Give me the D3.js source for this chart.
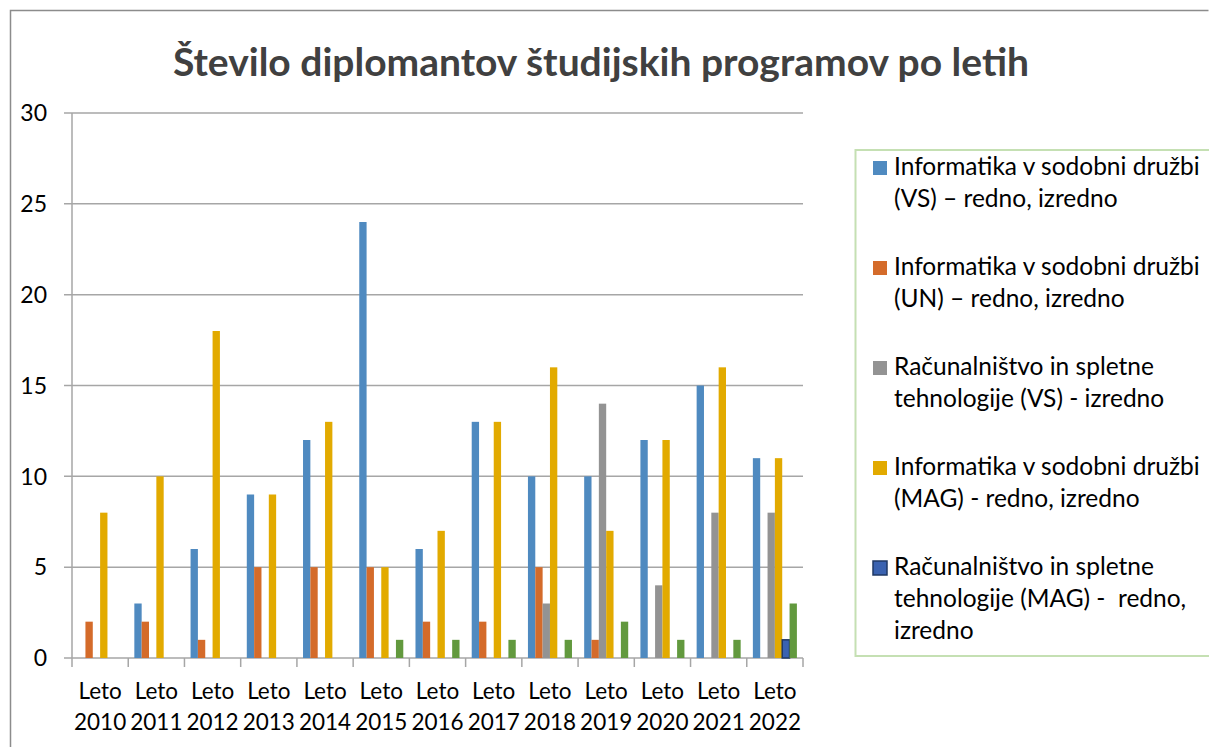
<!DOCTYPE html>
<html>
  <head>
    <meta charset="utf-8">
    <title>Število diplomantov</title>
    <script src="https://d3js.org/d3.v7.min.js"></script>
    <style>
      body { margin: 0; background: #fff; }
      text { font-family: Lato, "Noto Sans", sans-serif; fill: #000; }
    </style>
  </head>
  <body>
    <svg width="1209" height="747"></svg>
    <script>
      // categories (two-line labels)
      var years = ["2010", "2011", "2012", "2013", "2014", "2015", "2016",
                   "2017", "2018", "2019", "2020", "2021", "2022"];

      // series values, one per year
      var isdVS   = [0, 3, 6, 9, 12, 24, 6, 13, 10, 10, 12, 15, 11];
      var isdUN   = [2, 2, 1, 5, 5, 5, 2, 2, 5, 1, 0, 0, 0];
      var ristVS  = [0, 0, 0, 0, 0, 0, 0, 0, 3, 14, 4, 8, 8];
      var isdMAG  = [8, 10, 18, 9, 13, 5, 7, 13, 16, 7, 12, 16, 11];
      var ristMAG = [0, 0, 0, 0, 0, 0, 0, 0, 0, 0, 0, 0, 1];
      var other   = [0, 0, 0, 0, 0, 1, 1, 1, 1, 2, 1, 1, 3];

      var yTicks = [0, 5, 10, 15, 20, 25, 30];

      // series: legend lines (null = not in legend)
      var series = [
        { key: "isdVS", values: isdVS, color: "#4f8ac0",
          label: ["Informatika v sodobni družbi", "(VS) – redno, izredno"] },
        { key: "isdUN", values: isdUN, color: "#d46b2a",
          label: ["Informatika v sodobni družbi", "(UN) – redno, izredno"] },
        { key: "ristVS", values: ristVS, color: "#939393",
          label: ["Računalništvo in spletne", "tehnologije (VS) - izredno"] },
        { key: "isdMAG", values: isdMAG, color: "#e2aa00",
          label: ["Informatika v sodobni družbi", "(MAG) - redno, izredno"] },
        { key: "ristMAG", values: ristMAG, color: "#3a62b0", stroke: "#1f3864",
          label: ["Računalništvo in spletne", "tehnologije (MAG) -  redno,", "izredno"] },
        { key: "other", values: other, color: "#62993e", label: null }
      ];

      var svg = d3.select("svg");

      // outer chart border
      svg.append("path")
          .attr("d", "M10.5,747 V10.5 H1208.5")
          .attr("fill", "none")
          .attr("stroke", "#8c8c8c")
          .attr("stroke-width", 1.5);

      // title
      svg.append("text")
          .attr("x", 601)
          .attr("y", 76)
          .attr("text-anchor", "middle")
          .style("font-size", "39px")
          .style("font-weight", "bold")
          .style("fill", "#404040")
          .text("Število diplomantov študijskih programov po letih");

      var plotLeft = 72, plotRight = 803, plotTop = 113, plotBottom = 658;

      var x = d3.scaleBand()
          .domain(years)
          .range([plotLeft, plotRight])
          .padding(0);

      var pad = 6.1;
      var xs = d3.scaleBand()
          .domain(series.map(function(s) { return s.key; }))
          .range([pad, x.bandwidth() - pad]);

      var y = d3.scaleLinear()
          .domain([0, 30])
          .range([plotBottom, plotTop]);

      // gridlines + y labels
      var grid = svg.append("g");
      grid.selectAll("line")
          .data(yTicks)
          .enter().append("line")
          .attr("x1", plotLeft - 8)
          .attr("x2", plotRight)
          .attr("y1", function(d) { return y(d); })
          .attr("y2", function(d) { return y(d); })
          .attr("stroke", "#a6a6a6")
          .attr("stroke-width", 1.5);

      grid.selectAll("text")
          .data(yTicks)
          .enter().append("text")
          .attr("x", 47)
          .attr("y", function(d) { return y(d); })
          .attr("dy", "0.36em")
          .attr("text-anchor", "end")
          .style("font-size", "23px")
          .text(function(d) { return d; });

      // y axis line
      svg.append("line")
          .attr("x1", plotLeft).attr("x2", plotLeft)
          .attr("y1", plotTop).attr("y2", plotBottom)
          .attr("stroke", "#a6a6a6")
          .attr("stroke-width", 1.5);

      // bars
      var groups = svg.append("g")
          .selectAll("g")
          .data(series)
          .enter().append("g")
          .attr("fill", function(s) { return s.color; });

      groups.selectAll("rect")
          .data(function(s) {
            return s.values.map(function(v, i) {
              return { key: s.key, year: years[i], value: v, stroke: s.stroke };
            }).filter(function(d) { return d.value > 0; });
          })
          .enter().append("rect")
          .attr("x", function(d) { return x(d.year) + xs(d.key); })
          .attr("width", xs.bandwidth())
          .attr("y", function(d) { return y(d.value); })
          .attr("height", function(d) { return y(0) - y(d.value); })
          .attr("stroke", function(d) { return d.stroke || "none"; })
          .attr("stroke-width", 1.5);

      // x axis ticks at category boundaries
      var bounds = years.map(function(d) { return x(d); }).concat([plotRight]);
      svg.append("g")
          .selectAll("line")
          .data(bounds)
          .enter().append("line")
          .attr("x1", function(d) { return d; })
          .attr("x2", function(d) { return d; })
          .attr("y1", plotBottom)
          .attr("y2", plotBottom + 9)
          .attr("stroke", "#a6a6a6")
          .attr("stroke-width", 1.5);

      var xl = svg.append("g")
          .selectAll("text")
          .data(years)
          .enter().append("text")
          .attr("x", function(d) { return x(d) + x.bandwidth() / 2; })
          .attr("y", 699)
          .attr("text-anchor", "middle")
          .style("font-size", "22.5px");
      xl.append("tspan").text("Leto");
      xl.append("tspan")
          .attr("x", function(d) { return x(d) + x.bandwidth() / 2; })
          .attr("dy", 31)
          .text(function(d) { return d; });

      // legend
      svg.append("rect")
          .attr("x", 855.5)
          .attr("y", 150)
          .attr("width", 380)
          .attr("height", 506)
          .attr("fill", "none")
          .attr("stroke", "#c5e0b3")
          .attr("stroke-width", 2);

      var legend = svg.append("g")
          .selectAll("g")
          .data(series.filter(function(s) { return s.label; }))
          .enter().append("g")
          .attr("transform", function(d, i) { return "translate(873," + (175 + i * 100) + ")"; });

      legend.append("rect")
          .attr("x", 0)
          .attr("y", -14)
          .attr("width", 14)
          .attr("height", 14)
          .attr("fill", function(d) { return d.color; })
          .attr("stroke", function(d) { return d.stroke || "none"; })
          .attr("stroke-width", 1.5);

      legend.append("text")
          .style("font-size", "24.5px")
          .selectAll("tspan")
          .data(function(d) { return d.label; })
          .enter().append("tspan")
          .attr("x", 21)
          .attr("y", function(d, i) { return i * 32; })
          .style("white-space", "pre")
          .text(function(d) { return d; });
    </script>
  </body>
</html>
